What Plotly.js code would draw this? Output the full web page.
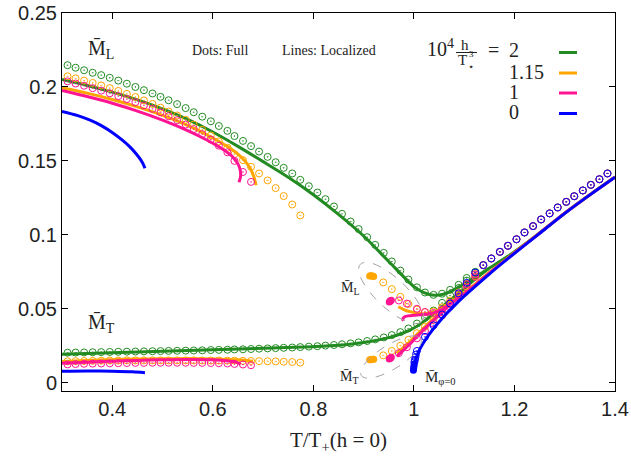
<!DOCTYPE html>
<html><head><meta charset="utf-8">
<script src="https://cdn.plot.ly/plotly-3.0.1.min.js"></script>
<style>html,body{margin:0;padding:0;background:#fff}</style>
</head><body><div id="chart" style="width:631px;height:462px"></div>
<script>
// ---------- DATA ----------
// temperature grid of the "Full" (dots) computation
const dotT = [0.311,0.327,0.344,0.361,0.378,0.395,0.412,0.429,0.446,0.463,0.480,0.496,0.512,0.529,0.546,0.562,0.579,0.596,0.612,0.629,0.643,0.660,0.676,0.692,0.709,0.725,0.741,0.758,0.774,0.791,0.808,0.824,0.841,0.857,0.874,0.890,0.907,0.923,0.940,0.956,0.973,0.989,1.006,1.022,1.039,1.056,1.072,1.089,1.105,1.122,1.138,1.154,1.171,1.187,1.204,1.220,1.237,1.253,1.270,1.286,1.303,1.319,1.336,1.352,1.369,1.385];
// common high-T full values (all h overlap)
const hiT = [1.138,1.154,1.171,1.187,1.204,1.220,1.237,1.253,1.270,1.286,1.303,1.319,1.336,1.352,1.369,1.385];
const hiM = [0.0795,0.0840,0.0885,0.0926,0.0970,0.1016,0.1059,0.1104,0.1145,0.1185,0.1223,0.1261,0.1300,0.1338,0.1376,0.1415];

// h = 2 (green)
const greenMLdots = [0.2147,0.2130,0.2113,0.2096,0.2080,0.2062,0.2043,0.2022,0.2000,0.1978,0.1956,0.1933,0.1910,0.1884,0.1857,0.1829,0.1799,0.1768,0.1736,0.1703,0.1668,0.1635,0.1600,0.1563,0.1527,0.1491,0.1453,0.1415,0.1372,0.1329,0.1286,0.1241,0.1192,0.1142,0.1090,0.1039,0.0984,0.0932,0.0878,0.0820,0.0758,0.0698,0.0645,0.0610,0.0594,0.0602,0.0628,0.0662,0.0708,0.0750,0.0795,0.0840,0.0885,0.0926,0.0970,0.1016,0.1059,0.1104,0.1145,0.1185,0.1223,0.1261,0.1300,0.1338,0.1376,0.1415];
const greenMTdots = [0.0203,0.0204,0.0205,0.0206,0.0207,0.0208,0.0209,0.0210,0.0211,0.0212,0.0213,0.0214,0.0215,0.0216,0.0217,0.0218,0.0219,0.0221,0.0222,0.0223,0.0225,0.0226,0.0228,0.0230,0.0232,0.0234,0.0236,0.0238,0.0241,0.0244,0.0247,0.0251,0.0255,0.0260,0.0266,0.0273,0.0282,0.0293,0.0306,0.0322,0.0342,0.0367,0.0400,0.0440,0.0488,0.0540,0.0590,0.0640,0.0690,0.0745];
const greenMLlineT = [0.30,0.35,0.40,0.45,0.50,0.55,0.60,0.65,0.70,0.75,0.80,0.85,0.90,0.95,1.00,1.02,1.04,1.06,1.08,1.10,1.15,1.20,1.25,1.30,1.35,1.40];
const greenMLline = [0.2050,0.2010,0.1965,0.1913,0.1852,0.1780,0.1695,0.1598,0.1495,0.1389,0.1271,0.1138,0.0992,0.0820,0.0650,0.0610,0.0592,0.0600,0.0630,0.0668,0.0775,0.0885,0.1012,0.1146,0.1271,0.1391];
const greenMTlineT = [0.30,0.40,0.50,0.60,0.70,0.80,0.85,0.90,0.95,0.98,1.00,1.02,1.04,1.06,1.08,1.10,1.12,1.15];
const greenMTline = [0.0193,0.0203,0.0213,0.0223,0.0233,0.0244,0.0253,0.0272,0.0305,0.0338,0.0370,0.0415,0.0468,0.0525,0.0580,0.0635,0.0695,0.0775];

// h = 1.15 (orange)
const orangeMLdots = [0.2072,0.2058,0.2043,0.2027,0.2010,0.1992,0.1973,0.1953,0.1932,0.1909,0.1885,0.1860,0.1834,0.1807,0.1778,0.1745,0.1710,0.1672,0.1632,0.1589,0.1545,0.1505,0.1460,0.1415,0.1368,0.1316,0.1262,0.1205,0.1131];
const orangeMTdots = [0.0145,0.0146,0.0147,0.0148,0.0149,0.0150,0.0150,0.0151,0.0151,0.0151,0.0151,0.0151,0.0151,0.0151,0.0151,0.0151,0.0150,0.0150,0.0150,0.0149,0.0149,0.0148,0.0147,0.0146,0.0145,0.0144,0.0142,0.0140,0.0136];
const orangeMLdots2T = [0.939,0.956,0.973,0.989,1.006,1.022,1.039,1.056,1.072,1.089,1.105,1.122];
const orangeMLdots2 = [0.0678,0.0633,0.0581,0.0532,0.0495,0.0478,0.0482,0.0510,0.0555,0.0610,0.0670,0.0735];
const orangeMTdots2T = [0.939,0.956,0.973,0.989,1.006,1.022,1.039,1.056,1.072,1.089,1.105,1.122];
const orangeMTdots2 = [0.0185,0.0215,0.0250,0.0290,0.0335,0.0380,0.0425,0.0475,0.0530,0.0590,0.0650,0.0720];
const orangeBlobT = [0.912,0.914,0.916,0.918,0.920];
const orangeBlobML = [0.0722,0.0723,0.0722,0.0721,0.0719];
const orangeBlobMT = [0.0155,0.0156,0.0157,0.0158,0.0159];
const orangeMLlineT = [0.300,0.350,0.400,0.450,0.500,0.550,0.600,0.630,0.650,0.665,0.675,0.682,0.686];
const orangeMLline = [0.1995,0.1958,0.1915,0.1865,0.1808,0.1740,0.1655,0.1595,0.1545,0.1495,0.1445,0.1390,0.1335];
const orangeMTlineT = [0.30,0.35,0.40,0.45,0.50,0.55,0.60,0.65,0.68];
const orangeMTline = [0.0143,0.0150,0.0156,0.0160,0.0162,0.0163,0.0161,0.0155,0.0145];
const orangeMLline2T = [0.969,0.980,0.990,1.000,1.012,1.025,1.040,1.055,1.070,1.085,1.100,1.150,1.200,1.250,1.300,1.350,1.400];
const orangeMLline2 = [0.0514,0.0495,0.0482,0.0474,0.0468,0.0468,0.0478,0.0502,0.0535,0.0570,0.0608,0.0745,0.0880,0.1013,0.1147,0.1271,0.1391];
const orangeMTline2T = [0.966,0.980,0.990,1.000,1.010,1.020,1.030,1.040,1.055,1.070];
const orangeMTline2 = [0.0198,0.0240,0.0272,0.0305,0.0338,0.0372,0.0405,0.0435,0.0480,0.0535];

// h = 1 (pink)
const pinkMLdots = [0.2038,0.2023,0.2008,0.1992,0.1975,0.1957,0.1938,0.1918,0.1897,0.1875,0.1852,0.1828,0.1802,0.1775,0.1746,0.1715,0.1681,0.1644,0.1603,0.1558,0.1500,0.1425,0.1358];
const pinkMTdots = [0.0124,0.0126,0.0128,0.0129,0.0130,0.0131,0.0132,0.0133,0.0134,0.0134,0.0135,0.0135,0.0135,0.0135,0.0135,0.0134,0.0134,0.0133,0.0132,0.0130,0.0127,0.0123,0.0118];
const pinkMLdots2T = [0.970,0.986,1.006,1.022,1.039,1.056,1.072,1.089,1.105,1.122];
const pinkMLdots2 = [0.0556,0.0535,0.0500,0.0478,0.0472,0.0495,0.0540,0.0600,0.0665,0.0732];
const pinkMTdots2T = [0.970,0.986,1.006,1.022,1.039,1.056,1.072,1.089,1.105,1.122];
const pinkMTdots2 = [0.0200,0.0240,0.0300,0.0350,0.0400,0.0455,0.0515,0.0580,0.0645,0.0715];
const pinkBlobT = [0.951,0.952,0.953,0.954,0.955];
const pinkBlobML = [0.0545,0.0549,0.0553,0.0556,0.0558];
const pinkBlobMT = [0.0160,0.0163,0.0166,0.0169,0.0172];
const pinkMLlineT = [0.300,0.350,0.400,0.450,0.500,0.550,0.590,0.620,0.640,0.650,0.655,0.655,0.652];
const pinkMLline = [0.1976,0.1935,0.1890,0.1837,0.1776,0.1705,0.1638,0.1578,0.1525,0.1480,0.1430,0.1390,0.1355];
const pinkMTlineT = [0.30,0.35,0.40,0.45,0.50,0.55,0.60,0.63,0.65,0.655];
const pinkMTline = [0.0131,0.0139,0.0146,0.0151,0.0155,0.0157,0.0155,0.0147,0.0135,0.0122];
const pinkMLline2T = [0.979,0.978,0.981,0.988,1.000,1.012,1.025,1.040,1.055,1.070,1.085,1.100,1.150,1.200,1.250,1.300,1.350,1.400];
const pinkMLline2 = [0.0418,0.0432,0.0445,0.0452,0.0456,0.0459,0.0463,0.0472,0.0495,0.0528,0.0563,0.0600,0.0740,0.0877,0.1011,0.1146,0.1270,0.1390];
const pinkMTline2T = [0.966,0.980,0.990,1.000,1.010,1.020,1.030,1.040,1.055,1.070];
const pinkMTline2 = [0.0178,0.0222,0.0255,0.0290,0.0325,0.0360,0.0393,0.0425,0.0470,0.0525];

// h = 0 (blue)
const blueDotsT = [1.001,1.002,1.003,1.004,1.006,1.022,1.039,1.056,1.072,1.089,1.105,1.122];
const blueDots = [0.0140,0.0155,0.0172,0.0190,0.0215,0.0310,0.0388,0.0462,0.0535,0.0605,0.0675,0.0745];
const blueBlobT = [0.999,0.9995,1.000,1.0005];
const blueBlob = [0.0085,0.0098,0.0112,0.0126];
const blueMLlineT = [0.300,0.330,0.356,0.380,0.402,0.420,0.435,0.447,0.456,0.462,0.465];
const blueMLline = [0.1835,0.1808,0.1775,0.1735,0.1687,0.1640,0.1595,0.1550,0.1510,0.1475,0.1450];
const blueMTlineT = [0.30,0.35,0.40,0.44,0.465];
const blueMTline = [0.0078,0.0080,0.0078,0.0074,0.0068];
const blueHighLineT = [1.000,1.002,1.005,1.010,1.020,1.030,1.040,1.060,1.080,1.100,1.150,1.200,1.250,1.300,1.350,1.400];
const blueHighLine = [0.0080,0.0130,0.0170,0.0215,0.0275,0.0325,0.0370,0.0450,0.0520,0.0585,0.0735,0.0875,0.1010,0.1145,0.1270,0.1390];

const legendValues = ['2', '1.15', '1', '0'];
const colors = {green:'#228b22', orange:'#ffa500', pink:'#ff1493', blue:'#0000ff'};

// ---------- BUILD ----------
function dots(x, y, c) {
  return {x:x, y:y, type:'scatter', mode:'markers', hoverinfo:'skip',
    marker:{symbol:'circle-open-dot', size:7, color:c, line:{width:1, color:c}}};
}
function blob(x, y, c) {
  return {x:x, y:y, type:'scatter', mode:'markers', hoverinfo:'skip',
    marker:{symbol:'circle', size:7, color:c, line:{width:0}}};
}
function line(x, y, c) {
  return {x:x, y:y, type:'scatter', mode:'lines', hoverinfo:'skip',
    line:{color:c, width:3, shape:'spline', smoothing:0.8}};
}
const traces = [
  dots(dotT, greenMLdots, colors.green),
  dots(dotT.slice(0, greenMTdots.length), greenMTdots, colors.green),
  line(greenMLlineT, greenMLline, colors.green),
  line(greenMTlineT, greenMTline, colors.green),

  dots(dotT.slice(0, orangeMLdots.length), orangeMLdots, colors.orange),
  dots(dotT.slice(0, orangeMTdots.length), orangeMTdots, colors.orange),
  dots(orangeMLdots2T.concat(hiT), orangeMLdots2.concat(hiM), colors.orange),
  dots(orangeMTdots2T, orangeMTdots2, colors.orange),
  blob(orangeBlobT, orangeBlobML, colors.orange),
  blob(orangeBlobT, orangeBlobMT, colors.orange),
  line(orangeMLlineT, orangeMLline, colors.orange),
  line(orangeMTlineT, orangeMTline, colors.orange),
  line(orangeMLline2T, orangeMLline2, colors.orange),
  line(orangeMTline2T, orangeMTline2, colors.orange),

  dots(dotT.slice(0, pinkMLdots.length), pinkMLdots, colors.pink),
  dots(dotT.slice(0, pinkMTdots.length), pinkMTdots, colors.pink),
  dots(pinkMLdots2T.concat(hiT), pinkMLdots2.concat(hiM), colors.pink),
  dots(pinkMTdots2T, pinkMTdots2, colors.pink),
  blob(pinkBlobT, pinkBlobML, colors.pink),
  blob(pinkBlobT, pinkBlobMT, colors.pink),
  line(pinkMLlineT, pinkMLline, colors.pink),
  line(pinkMTlineT, pinkMTline, colors.pink),
  line(pinkMLline2T, pinkMLline2, colors.pink),
  line(pinkMTline2T, pinkMTline2, colors.pink),

  dots(blueDotsT.concat(hiT), blueDots.concat(hiM), colors.blue),
  blob(blueBlobT, blueBlob, colors.blue),
  line(blueMLlineT, blueMLline, colors.blue),
  line(blueMTlineT, blueMTline, colors.blue),
  line(blueHighLineT, blueHighLine, colors.blue)
];

// ---------- LAYOUT ----------
const L = 62, R = 615, T = 13, B = 391;
const px = v => (v - L) / (R - L);
const py = v => (B - v) / (B - T);
const serif = 'Liberation Serif, DejaVu Serif, serif';
const txtCol = '#222';
function ann(text, x, y, size, xanchor) {
  return {text:text, x:px(x), y:py(y), xref:'paper', yref:'paper', showarrow:false,
    xanchor:xanchor || 'center', yanchor:'middle', font:{family:serif, size:size, color:txtCol}};
}
const annotations = [
  ann('M\u0304<sub>L</sub>', 101, 49, 20),
  ann('M\u0304<sub>T</sub>', 101, 323, 20),
  ann('Dots: Full', 220, 50, 14),
  ann('Lines: Localized', 329, 50, 14),
  ann('10<sup>4</sup>', 440, 48, 20),
  ann('h', 465, 45, 15),
  ann('T', 462, 60, 15),
  ann('3', 471, 54, 9),
  ann('\u22c6', 471, 66.5, 10),
  ann('=', 493, 50, 20),
  ann('M\u0304<sub>L</sub>', 350, 288, 14),
  ann('M\u0304<sub>T</sub>', 349, 377, 14),
  ann('M\u0304<sub>\u03c6=0</sub>', 440, 378, 15)
];
const legY = [50, 72, 92, 112];
const legLineY = [52.5, 73, 93, 113.5];
const legCols = [colors.green, colors.orange, colors.pink, colors.blue];
const shapes = [
  {type:'line', xref:'paper', yref:'paper', x0:px(456), x1:px(477), y0:py(52.5), y1:py(52.5), line:{color:txtCol, width:1}}
];
legendValues.forEach((v, i) => {
  annotations.push(ann(v, 507, legY[i], 20, 'left'));
  shapes.push({type:'line', xref:'paper', yref:'paper', x0:px(559), x1:px(577),
    y0:py(legLineY[i]), y1:py(legLineY[i]), line:{color:legCols[i], width:3}});
});
function ellipse(cx, cy, a, b, deg) {
  const th = deg * Math.PI / 180;
  let d = '';
  for (let k = 0; k <= 72; k++) {
    const t = 2 * Math.PI * k / 72;
    const ex = a * Math.cos(t), ey = b * Math.sin(t);
    const X = cx + ex * Math.cos(th) - ey * Math.sin(th);
    const Y = cy + ex * Math.sin(th) + ey * Math.cos(th);
    d += (k === 0 ? 'M' : 'L') + px(X).toFixed(4) + ',' + py(Y).toFixed(4);
  }
  return {type:'path', xref:'paper', yref:'paper', path:d + 'Z',
    line:{color:'#a0a0a0', width:1, dash:'dash'}};
}
shapes.push(ellipse(391, 293, 42, 15, 43));
shapes.push(ellipse(391, 357, 35, 12, -32));

const axisCommon = {
  ticks:'inside', ticklen:6, tickwidth:1, tickcolor:'#000',
  showline:true, linecolor:'#000', linewidth:1, mirror:'allticks',
  showgrid:false, zeroline:false,
  tickfont:{family:'Liberation Sans, Arial, sans-serif', size:20, color:txtCol}
};
const layout = {
  width:631, height:462,
  margin:{l:L, r:631 - R, t:T, b:462 - B},
  paper_bgcolor:'#fff', plot_bgcolor:'#fff',
  showlegend:false,
  xaxis: Object.assign({}, axisCommon, {range:[0.3, 1.4], dtick:0.2, tick0:0,
    title:{text:'T/T<sub>+</sub>(h = 0)', font:{family:serif, size:21, color:txtCol}, standoff:13}}),
  yaxis: Object.assign({}, axisCommon, {range:[-0.0056, 0.25], dtick:0.05, tick0:0}),
  annotations:annotations,
  shapes:shapes
};
Plotly.newPlot('chart', traces, layout, {staticPlot:true, displayModeBar:false});
</script></body></html>
